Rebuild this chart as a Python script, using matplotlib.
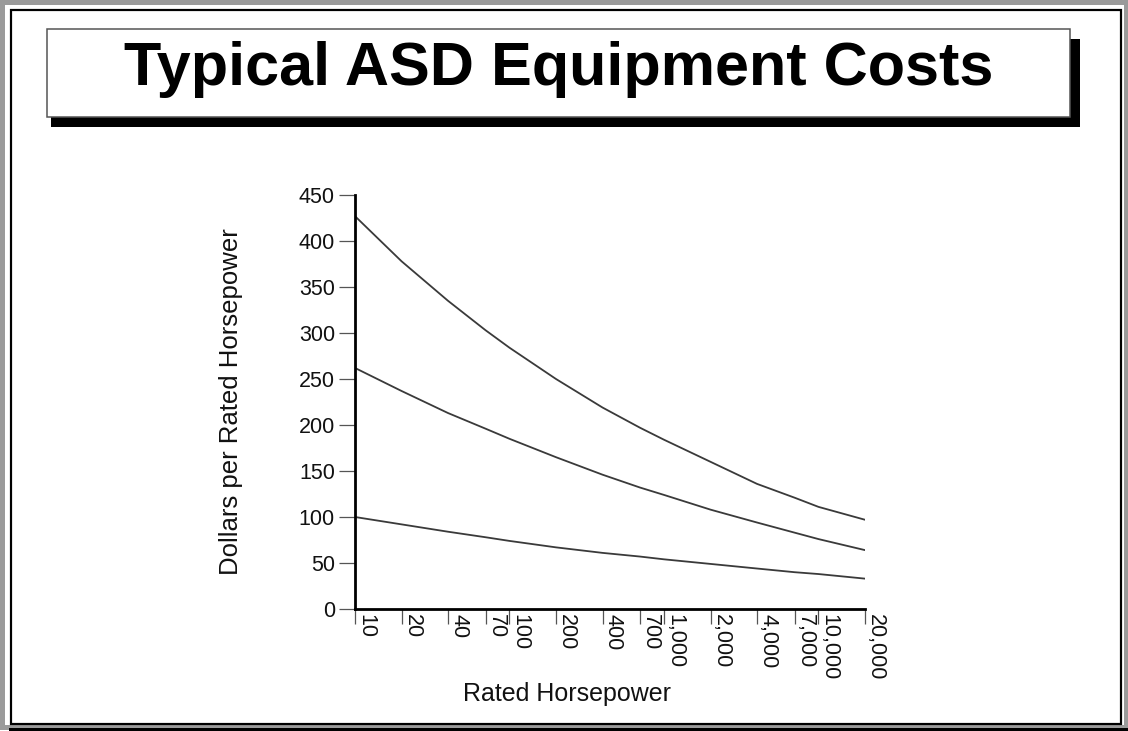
import matplotlib
matplotlib.use("Agg")
import matplotlib.pyplot as plt
from matplotlib.patches import Rectangle
from matplotlib.lines import Line2D

# ---------------- data ----------------
horsepower = [10, 20, 40, 70, 100, 200, 400, 700, 1000, 2000, 4000, 7000, 10000, 20000]
tick_labels = ["10", "20", "40", "70", "100", "200", "400", "700", "1,000",
               "2,000", "4,000", "7,000", "10,000", "20,000"]
cost_high = [427, 378, 335, 303, 284, 250, 219, 197, 184, 160, 136, 121, 111, 97]
cost_mid = [262, 237, 213, 196, 185, 165, 146, 132, 124, 108, 94, 83, 76, 64]
cost_low = [100, 92, 84, 78, 74, 67, 61, 57, 54, 49, 44, 40, 38, 33]
y_ticks = [0, 50, 100, 150, 200, 250, 300, 350, 400, 450]

title = "Typical ASD Equipment Costs"
xlabel = "Rated Horsepower"
ylabel = "Dollars per Rated Horsepower"

# ---------------- figure ----------------
W, H = 1128, 731
fig = plt.figure(figsize=(W / 100, H / 100), dpi=100)
fig.patch.set_facecolor("white")
plt.rcParams["font.family"] = ["Liberation Sans", "DejaVu Sans"]


def fx(x):
    return x / W


def fy(y):
    return 1 - y / H


# outer frame (gray bevel + black line)
for (x0, y0, x1, y1, c, lw) in [
    (2, 2, 1126, 727, "#9a9a9a", 5),
    (11, 10, 1121, 724, "black", 2.2),
]:
    fig.add_artist(Rectangle((fx(x0), fy(y1)), fx(x1) - fx(x0), fy(y0) - fy(y1),
                             transform=fig.transFigure, fill=False,
                             edgecolor=c, linewidth=lw * 0.72))
fig.add_artist(Line2D([fx(10), fx(1128)], [fy(729), fy(729)],
                      transform=fig.transFigure, color="black", linewidth=3 * 0.72))

# title box with shadow
bx0, by0, bx1, by1 = 47, 29, 1070, 117
fig.add_artist(Rectangle((fx(bx0 + 4), fy(by1 + 10)), fx(bx1 - bx0 + 6), (by1 - by0) / H,
                         transform=fig.transFigure, facecolor="black", edgecolor="none"))
fig.add_artist(Rectangle((fx(bx0), fy(by1)), fx(bx1 - bx0), (by1 - by0) / H,
                         transform=fig.transFigure, facecolor="white",
                         edgecolor="#555555", linewidth=1.1))
fig.text(fx(559), fy(85), title, ha="center", va="baseline",
         fontsize=44, fontweight="bold", color="black")

# ---------------- axes ----------------
left, right, top, bottom = 355, 865, 195, 609
ax = fig.add_axes([fx(left), fy(bottom), fx(right - left), (bottom - top) / H])
ax.set_xscale("log")
ax.set_xlim(horsepower[0], horsepower[-1])
ax.set_ylim(y_ticks[0], y_ticks[-1])

for series in (cost_high, cost_mid, cost_low):
    ax.plot(horsepower, series, color="#3a3a3a", linewidth=1.3,
            solid_capstyle="round", solid_joinstyle="round")

for s in ("top", "right"):
    ax.spines[s].set_visible(False)
for s in ("left", "bottom"):
    ax.spines[s].set_linewidth(2.0)
    ax.spines[s].set_color("black")

ax.set_yticks(y_ticks)
ax.set_yticklabels([str(v) for v in y_ticks])
ax.tick_params(axis="y", direction="out", length=11.5, width=0.9, color="#555555",
               pad=3, labelsize=15.5, labelcolor="#111111")

ax.xaxis.set_minor_locator(matplotlib.ticker.NullLocator())
ax.set_xticks(horsepower)
ax.set_xticklabels(tick_labels, rotation=-90, ha="left", va="top")
ax.tick_params(axis="x", direction="out", length=11, width=0.9, color="#555555",
               pad=-7.5, labelsize=15.5, labelcolor="#111111")

ax.set_ylabel(ylabel, fontsize=18.5, color="#111111")
ax.yaxis.set_label_coords((243 - left) / (right - left), 0.5)
ax.set_xlabel(xlabel, fontsize=18, color="#111111")
ax.xaxis.set_label_coords((567 - left) / (right - left), (bottom - 682) / (bottom - top))

fig.savefig("out.png", dpi=100, facecolor="white")
